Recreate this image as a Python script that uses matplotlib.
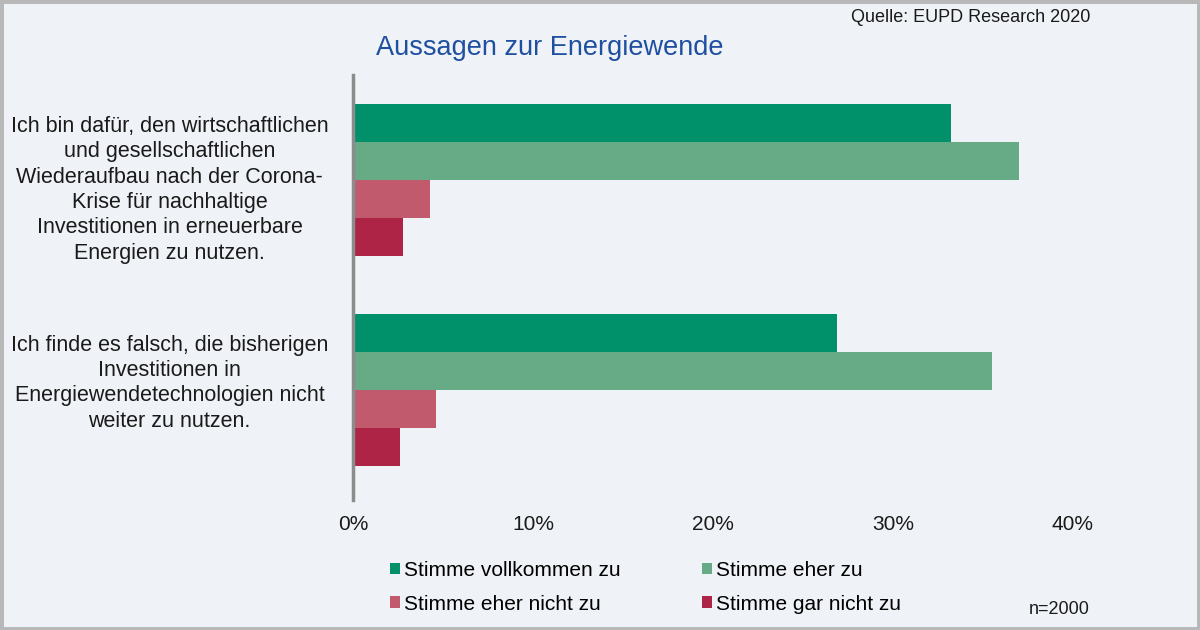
import matplotlib
matplotlib.use("Agg")
import matplotlib.pyplot as plt
from matplotlib.patches import Rectangle, Patch
import numpy as np

plt.rcParams['font.family'] = ['Liberation Sans', 'DejaVu Sans']

categories = [
    "Ich bin dafür, den wirtschaftlichen\nund gesellschaftlichen\nWiederaufbau nach der Corona-\nKrise für nachhaltige\nInvestitionen in erneuerbare\nEnergien zu nutzen.",
    "Ich finde es falsch, die bisherigen\nInvestitionen in\nEnergiewendetechnologien nicht\nweiter zu nutzen.",
]
series_names = ["Stimme vollkommen zu", "Stimme eher zu", "Stimme eher nicht zu", "Stimme gar nicht zu"]
vollkommen = [33.2, 26.9]
eher_zu = [37.0, 35.5]
eher_nicht = [4.3, 4.6]
gar_nicht = [2.8, 2.6]
xticks = [0, 10, 20, 30, 40]
xtick_labels = ["0%", "10%", "20%", "30%", "40%"]

colors = ["#00916a", "#66aa86", "#c05a6c", "#ad2447"]
bg = "#eff2f6"

fig = plt.figure(figsize=(12, 6.3), dpi=100, facecolor=bg)
ax = fig.add_axes([353/1200, (630-500)/630, 720/1200, 425/630])
ax.set_facecolor(bg)

h = 0.181
y = np.arange(len(categories))
series = [vollkommen, eher_zu, eher_nicht, gar_nicht]
handles = []
for i, (vals, c, name) in enumerate(zip(series, colors, series_names)):
    offs = (i - 1.5) * h
    ax.barh(y + offs, vals, height=h, color=c, edgecolor='none', label=name)
    handles.append(Patch(facecolor=c, edgecolor='none', label=name))

ax.set_xlim(0, 40)
ax.set_ylim(1.524, -0.5)
for s in ['top', 'right', 'bottom']:
    ax.spines[s].set_visible(False)
ax.spines['left'].set_color('#8c8c8c')
ax.spines['left'].set_linewidth(2.5)

ax.set_xticks(xticks)
ax.set_xticklabels(xtick_labels, fontsize=15, color='#1a1a1a')
ax.tick_params(axis='x', length=0, pad=11)
ax.set_yticks(y)
ax.set_yticklabels([])
ax.tick_params(axis='y', length=0)

# category labels, centred left of the axis (slight vertical offsets as in the reference)
label_dy = [-7, 5]  # points
for yi, txt, dy in zip(y, categories, label_dy):
    ax.annotate(txt, xy=(0, yi), xycoords=ax.get_yaxis_transform(),
                xytext=(-132, dy), textcoords='offset points',
                ha='center', va='center', fontsize=15.5, color='#1a1a1a',
                linespacing=1.27, annotation_clip=False)

fig.text(550/1200, 1 - 48/630, "Aussagen zur Energiewende", fontsize=19.5, color='#1f4fa0',
         ha='center', va='center')
fig.text(1090/1200, 1 - 17/630, "Quelle: EUPD Research 2020", fontsize=13, color='#1a1a1a',
         ha='right', va='center')
fig.text(1090/1200, 1 - 609/630, "n=2000", fontsize=13, color='#1a1a1a',
         ha='right', va='center')

order = [0, 2, 1, 3]
leg = fig.legend([handles[i] for i in order], [series_names[i] for i in order],
                 ncol=2, loc='upper left', bbox_to_anchor=(390/1200, 1 - 561/630),
                 frameon=False, fontsize=15, handlelength=0.48, handleheight=0.48,
                 handletextpad=0.2, columnspacing=3.9, labelspacing=0.7,
                 borderaxespad=0, borderpad=0)

fig.patches.append(Rectangle((0, 0), 1, 1, transform=fig.transFigure, fill=False,
                             edgecolor='#b8b8b8', linewidth=5))

fig.savefig("out.png", dpi=100, facecolor=bg)
